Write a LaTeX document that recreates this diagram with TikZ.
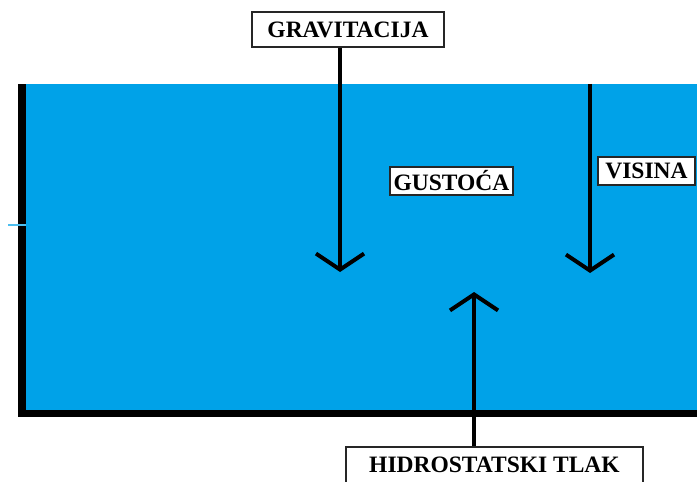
\documentclass[tikz,border=0pt]{standalone}
\usepackage{fontspec}
\setmainfont{Liberation Serif}
\usetikzlibrary{arrows.meta}
\definecolor{voda}{HTML}{00A2E8}
\tikzset{
  oznaka/.style={draw=black!85, line width=1.2bp, fill=white, inner sep=0pt,
    font=\bfseries\fontsize{23.5bp}{27bp}\selectfont},
  sila/.style={line width=4bp, -{Straight Barb[length=16bp,width=48bp]}}
}
\begin{document}
\begin{tikzpicture}[x=1bp,y=-1bp]
    \path[use as bounding box, clip] (0,0) rectangle (697,482);

    % posuda s vodom
    \fill[voda] (26,84) rectangle (697,410);
    \fill[black] (18,84) rectangle (26,417);
    \fill[black] (18,410) rectangle (697,417);
    \draw[voda!70!white, line width=1.2bp] (8,225) -- (26,225);

    % oznake
    \node[oznaka, minimum width=192bp, minimum height=35bp] (grav) at (348,29.5) {GRAVITACIJA};
    \node[oznaka, minimum width=123bp, minimum height=28bp] (gust) at (451.5,181) {GUSTOĆA};
    \node[oznaka, minimum width=97bp, minimum height=28bp] (vis) at (646.5,171) {VISINA};
    \node[oznaka, minimum width=297bp, minimum height=36bp] (tlak) at (494.5,465) {HIDROSTATSKI TLAK};

    % strelice
    \coordinate (gravvrh) at (340,272);
    \coordinate (povrsina) at (590,84);
    \coordinate (visvrh) at (590,273);
    \coordinate (tlakvrh) at (474,292);
    \draw[sila] (grav.south -| gravvrh) -- (gravvrh);
    \draw[sila] (povrsina) -- (visvrh);
    \draw[sila] (tlak.north -| tlakvrh) -- (tlakvrh);

\end{tikzpicture}
\end{document}
